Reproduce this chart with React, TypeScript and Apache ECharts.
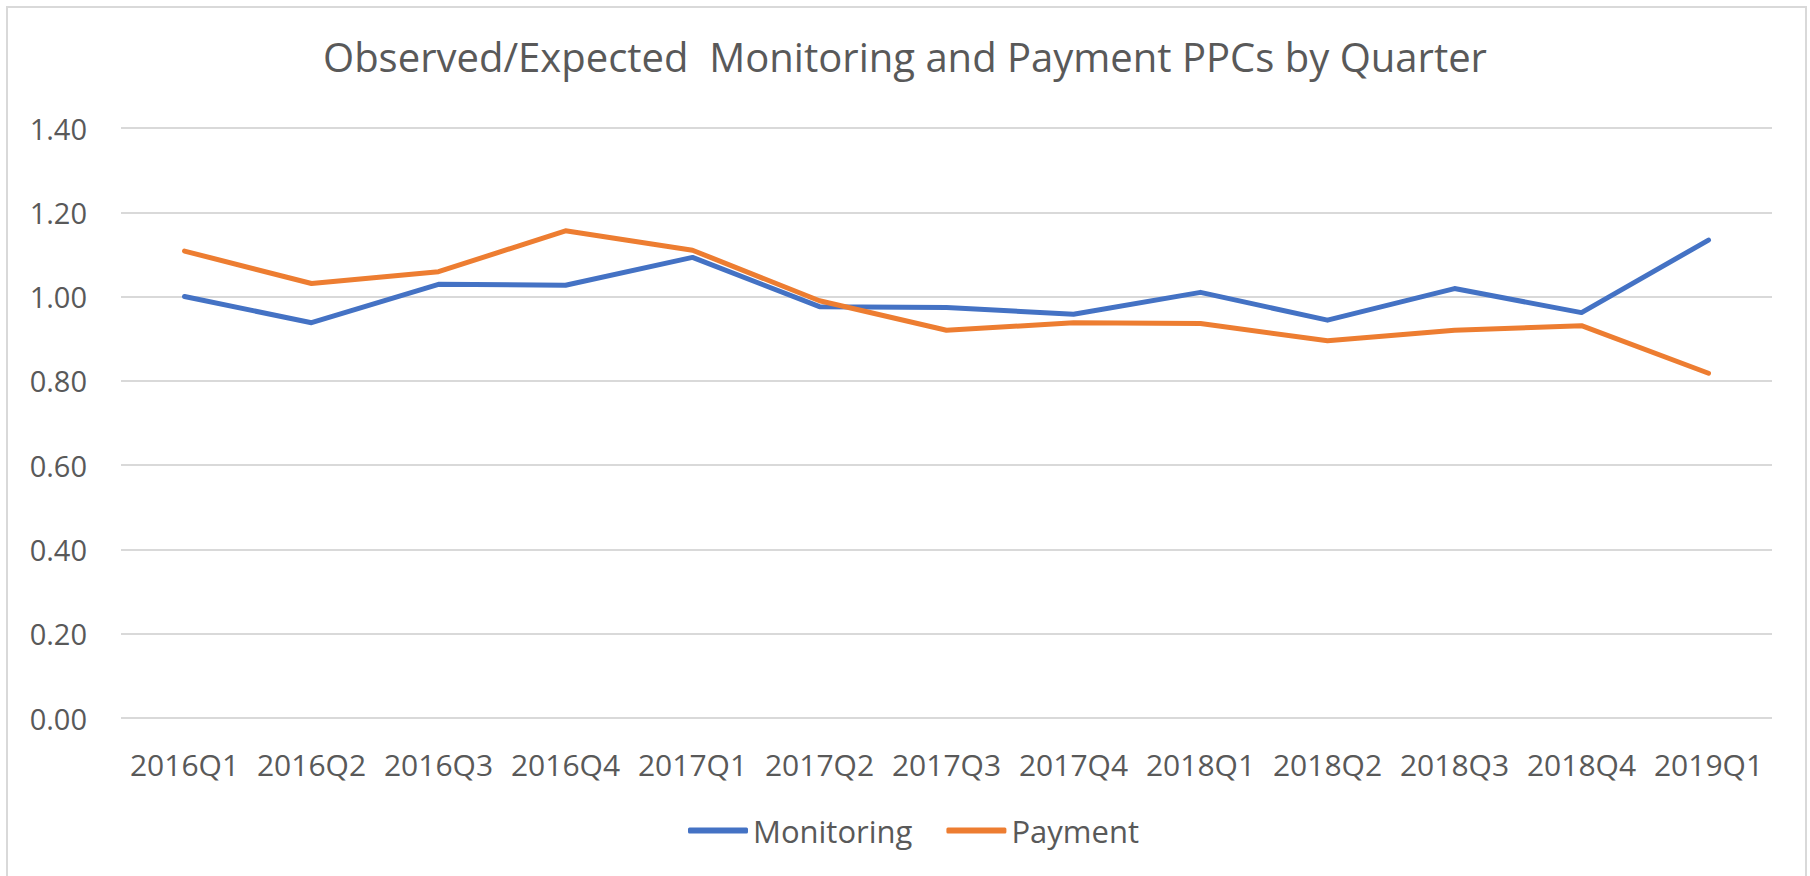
import React, { useEffect, useRef } from "react";
import * as echarts from "echarts";

const categories = [
  "2016Q1", "2016Q2", "2016Q3", "2016Q4", "2017Q1", "2017Q2", "2017Q3",
  "2017Q4", "2018Q1", "2018Q2", "2018Q3", "2018Q4", "2019Q1",
];
const monitoring = [1.0, 0.938, 1.029, 1.027, 1.093, 0.976, 0.974, 0.958, 1.01, 0.944, 1.019, 0.962, 1.134];
const payment = [1.108, 1.031, 1.059, 1.156, 1.11, 0.99, 0.92, 0.938, 0.936, 0.895, 0.92, 0.931, 0.818];
const seriesNames = ["Monitoring", "Payment"];
const title = "Observed/Expected  Monitoring and Payment PPCs by Quarter";

const FONT = "'Open Sans', sans-serif";
const TEXT = "#595959";

export default function App() {
  const ref = useRef<HTMLDivElement>(null);
  useEffect(() => {
    if (!ref.current) return;
    const chart = echarts.init(ref.current, undefined, { renderer: "svg" });
    chart.setOption({
      animation: false,
      backgroundColor: "#ffffff",
      textStyle: { fontFamily: FONT },
      title: {
        text: title,
        left: "center",
        top: 31,
        textStyle: { fontFamily: FONT, fontSize: 40, fontWeight: "normal", color: TEXT },
      },
      graphic: [
        {
          type: "rect",
          shape: { x: 7, y: 7, width: 1799, height: 900 },
          style: { fill: "none", stroke: "#D9D9D9", lineWidth: 2 },
          silent: true,
        },
      ],
      legend: {
        left: 683,
        top: 810,
        itemWidth: 60,
        itemHeight: 6,
        itemGap: 34,
        icon: "roundRect",
        textStyle: { fontFamily: FONT, fontSize: 31, color: TEXT },
        data: seriesNames,
      },
      grid: { left: 121, right: 38, top: 128, bottom: 158, containLabel: false },
      xAxis: {
        type: "category",
        data: categories,
        boundaryGap: true,
        axisLine: { show: false },
        axisTick: { show: false },
        axisLabel: { fontFamily: FONT, fontSize: 30, color: TEXT, margin: 31, interval: 0 },
      },
      yAxis: {
        type: "value",
        min: 0,
        max: 1.4,
        interval: 0.2,
        axisLine: { show: false },
        axisTick: { show: false },
        splitLine: { lineStyle: { color: "#D9D9D9", width: 2 } },
        axisLabel: {
          fontFamily: FONT,
          fontSize: 29,
          color: TEXT,
          margin: 34,
          formatter: (v: number) => v.toFixed(2),
        },
      },
      series: [
        {
          name: seriesNames[0],
          type: "line",
          data: monitoring,
          symbol: "none",
          color: "#4472C4",
          lineStyle: { width: 5, color: "#4472C4", cap: "round", join: "round" },
        },
        {
          name: seriesNames[1],
          type: "line",
          data: payment,
          symbol: "none",
          color: "#ED7D31",
          lineStyle: { width: 5, color: "#ED7D31", cap: "round", join: "round" },
        },
      ],
    });
    return () => chart.dispose();
  }, []);
  return (
    <div
      ref={ref}
      style={{ position: "fixed", left: 0, top: 0, width: 1810, height: 876, background: "#fff" }}
    />
  );
}
